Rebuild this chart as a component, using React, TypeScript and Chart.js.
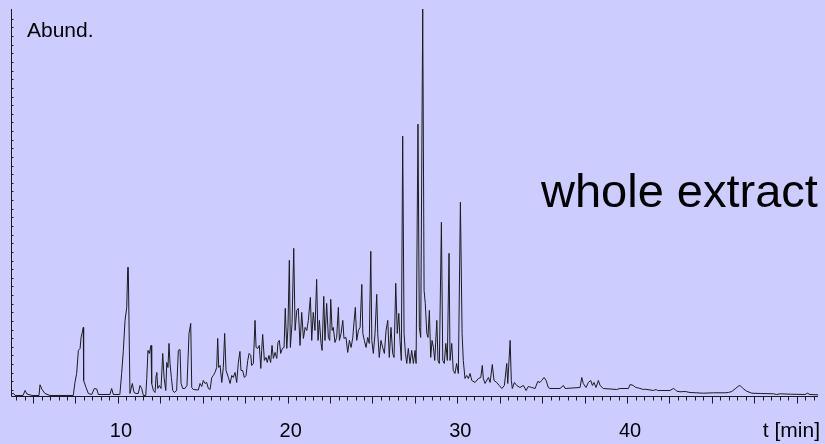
import React, { useEffect, useRef } from "react";
import { Chart, registerables } from "chart.js";

Chart.register(...registerables);

// Retention time (min)
const times: number[] = [
  3.74, 3.85, 3.94, 4.41, 4.53, 4.64, 4.94, 5.35, 5.41, 5.53,
  5.70, 6.00, 7.37, 7.47, 7.57, 7.67, 7.77, 7.83, 7.90, 7.96,
  7.98, 8.12, 8.26, 8.46, 8.61, 8.75, 8.85, 9.53, 9.63, 9.73,
  10.08, 10.12, 10.22, 10.32, 10.42, 10.52, 10.58, 10.61, 10.71, 10.85,
  10.95, 11.07, 11.20, 11.30, 11.40, 11.50, 11.64, 11.70, 11.77, 11.85,
  11.95, 11.99, 12.09, 12.19, 12.25, 12.29, 12.35, 12.44, 12.54, 12.64,
  12.72, 12.82, 12.88, 12.95, 13.01, 13.07, 13.15, 13.23, 13.32, 13.46,
  13.56, 13.66, 13.72, 13.82, 13.95, 14.07, 14.19, 14.29, 14.35, 14.44,
  14.74, 14.84, 14.94, 15.03, 15.13, 15.23, 15.33, 15.43, 15.53, 15.62,
  15.72, 15.82, 15.88, 15.94, 16.02, 16.12, 16.21, 16.29, 16.37, 16.51,
  16.61, 16.71, 16.80, 16.90, 17.00, 17.09, 17.19, 17.25, 17.35, 17.45,
  17.55, 17.65, 17.73, 17.83, 17.88, 17.98, 18.08, 18.14, 18.24, 18.33,
  18.42, 18.47, 18.53, 18.63, 18.73, 18.80, 18.90, 19.00, 19.08, 19.16,
  19.26, 19.36, 19.43, 19.51, 19.59, 19.69, 19.79, 19.86, 19.95, 20.02,
  20.10, 20.16, 20.26, 20.36, 20.44, 20.54, 20.63, 20.73, 20.83, 20.93,
  21.03, 21.13, 21.22, 21.34, 21.42, 21.51, 21.61, 21.71, 21.79, 21.87,
  21.97, 22.03, 22.13, 22.20, 22.30, 22.40, 22.48, 22.54, 22.62, 22.69,
  22.79, 22.89, 22.99, 23.05, 23.15, 23.25, 23.32, 23.44, 23.54, 23.64,
  23.74, 23.84, 23.91, 23.99, 24.07, 24.17, 24.27, 24.37, 24.43, 24.52,
  24.62, 24.72, 24.81, 24.90, 24.96, 25.05, 25.15, 25.25, 25.31, 25.40,
  25.50, 25.60, 25.70, 25.80, 25.90, 25.99, 26.09, 26.19, 26.27, 26.37,
  26.46, 26.55, 26.62, 26.70, 26.78, 26.86, 26.94, 27.02, 27.11, 27.21,
  27.31, 27.41, 27.51, 27.57, 27.68, 27.76, 27.84, 27.96, 28.04, 28.11,
  28.20, 28.27, 28.35, 28.43, 28.51, 28.59, 28.67, 28.79, 28.86, 28.94,
  29.06, 29.14, 29.23, 29.32, 29.41, 29.51, 29.57, 29.67, 29.76, 29.86,
  29.96, 30.06, 30.18, 30.28, 30.35, 30.45, 30.55, 30.65, 30.75, 30.85,
  31.04, 31.24, 31.38, 31.47, 31.53, 31.63, 31.83, 31.93, 32.06, 32.16,
  32.32, 32.47, 32.62, 32.77, 32.91, 32.97, 33.11, 33.18, 33.24, 33.36,
  33.50, 33.69, 33.89, 34.05, 34.18, 34.38, 34.58, 34.74, 34.87, 34.97,
  35.11, 35.23, 35.36, 35.46, 36.05, 36.25, 36.35, 37.23, 37.33, 37.42,
  37.58, 37.72, 37.86, 37.96, 38.05, 38.17, 38.31, 38.41, 38.60, 39.39,
  39.59, 40.08, 40.18, 40.37, 40.51, 40.67, 40.96, 41.06, 41.55, 41.71,
  41.79, 42.53, 42.73, 42.83, 42.93, 43.12, 43.42, 43.71, 44.50, 45.09,
  45.78, 45.97, 46.17, 46.37, 46.56, 46.66, 46.85, 47.05, 47.35, 47.84,
  48.62, 48.82, 49.02, 49.61, 50.49, 50.62, 50.78, 51.26,
];

// Abundance (arbitrary units)
const abundance: number[] = [
  2.7, 3, 1, 1, 6, 2.5, 1, 1, 11.7, 7,
  3, 1, 1, 14, 23, 46, 48, 59, 64, 69,
  16, 9, 3, 2, 8, 7.5, 2, 2, 8, 2,
  2, 3, 23, 46, 76, 89, 129, 129, 3, 13,
  4, 3, 3, 11, 8, 1, 1, 18, 46, 43,
  51, 13, 6, 4, 21, 24, 8, 11, 8, 43,
  19, 6, 34, 29, 53, 33, 19, 6, 4, 6,
  46, 47, 13, 8, 8, 11, 63, 73, 9, 7,
  6.5, 13, 10, 16, 13, 14, 8, 7, 19, 21,
  24, 29, 58, 29, 31, 14, 29, 63, 26, 19,
  13, 21, 19, 24, 14, 33, 45, 26, 26, 19,
  21, 36, 43, 41, 31, 33, 76, 49, 48, 51,
  28, 46, 62, 36, 39, 34, 41, 34, 51, 38,
  44, 38, 54, 56, 43, 48, 49, 88, 48, 69,
  136, 49, 73, 148, 66, 86, 88, 51, 84, 58,
  69, 66, 76, 99, 56, 84, 66, 117, 56, 76,
  53, 46, 100, 56, 93, 59, 56, 97, 66, 69,
  54, 59, 89, 56, 63, 76, 58, 59, 44, 56,
  49, 59, 74, 89, 56, 66, 69, 112, 63, 56,
  49, 59, 53, 145, 56, 43, 63, 102, 63, 39,
  56, 49, 43, 66, 76, 39, 69, 43, 39, 113,
  63, 83, 56, 36, 260, 63, 43, 33, 48, 33,
  46, 33, 46, 33, 272, 69, 59, 387, 106, 93,
  63, 59, 86, 39, 56, 49, 36, 76, 36, 33,
  174, 36, 33, 53, 36, 143, 36, 53, 26, 23,
  33, 23, 194, 63, 36, 18, 21, 18, 23, 16,
  14, 18, 19, 31, 18, 13, 19, 14, 32, 16,
  14, 11, 8, 11, 33, 13, 56, 16, 8, 14,
  11, 9, 11, 6, 10, 9, 8, 15, 14, 16,
  19, 16, 9, 8, 8, 11, 8, 9, 19, 13,
  9, 14, 16, 11, 14, 9, 16, 11, 8, 7,
  8, 8, 12, 11, 9, 8.5, 7, 7.3, 6, 7,
  6, 6, 8, 7, 5.3, 4.7, 5, 4, 3.3, 3.7,
  3.7, 4, 5, 7.7, 10.3, 11, 7.7, 5.3, 3.3, 3,
  2.7, 2, 2.7, 2.3, 2, 3.3, 2, 1.7,
];

// Axis labels
const xTickLabels: number[] = [10, 20, 30, 40];
const X_MIN = 3.73;
const X_MAX = 51.25;
const Y_MAX = 387;

const BG = "#ccccff";
const INK = "#1c1c1c";
const FONT = '"Liberation Sans", Arial, Helvetica, sans-serif';

const axesPlugin = {
  id: "chromAxes",
  beforeDraw(chart: any) {
    const { ctx, width, height } = chart;
    ctx.save();
    ctx.fillStyle = BG;
    ctx.fillRect(0, 0, width, height);
    ctx.restore();
  },
  afterDraw(chart: any) {
    const { ctx, chartArea } = chart;
    const xs = chart.scales.x;
    const ys = chart.scales.y;
    const left = chartArea.left;
    const bottom = chartArea.bottom;
    ctx.save();
    ctx.strokeStyle = INK;
    ctx.lineWidth = 1;
    // y axis line
    ctx.beginPath();
    ctx.moveTo(left, chartArea.top);
    ctx.lineTo(left, bottom);
    ctx.stroke();
    // y ticks (inward, small)
    for (let k = 0; k < 44; k++) {
      const v = 6.5 + k * 8.62;
      const py = Math.round(ys.getPixelForValue(v)) + 0.5;
      ctx.beginPath();
      ctx.moveTo(left, py);
      ctx.lineTo(left + 2, py);
      ctx.stroke();
    }
    // x axis line
    ctx.beginPath();
    ctx.moveTo(left, bottom);
    ctx.lineTo(chartArea.right, bottom);
    ctx.stroke();
    // x ticks: minor every 0.5 min, major every 2.5 min
    for (let i = 8; i <= 102; i++) {
      const t = i / 2;
      const px = Math.round(xs.getPixelForValue(t)) + 0.5;
      const major = i % 5 === 0;
      ctx.beginPath();
      ctx.moveTo(px, bottom);
      ctx.lineTo(px, bottom + (major ? 7 : 4));
      ctx.stroke();
    }
    // tick labels
    ctx.fillStyle = "#000";
    ctx.font = `20px ${FONT}`;
    ctx.textAlign = "center";
    ctx.textBaseline = "alphabetic";
    for (const t of xTickLabels) {
      ctx.fillText(String(t), xs.getPixelForValue(t) + 3, 437);
    }
    // axis titles
    ctx.font = `21px ${FONT}`;
    ctx.textAlign = "right";
    ctx.fillText("t [min]", 820, 437);
    ctx.textAlign = "left";
    ctx.fillText("Abund.", 27, 36.5);
    // annotation
    ctx.font = `47px ${FONT}`;
    ctx.fillText("whole extract", 541, 206.5);
    ctx.restore();
  },
};

export default function App() {
  const ref = useRef<HTMLCanvasElement | null>(null);

  useEffect(() => {
    document.body.style.margin = "0";
    if (!ref.current) return;
    const chart = new Chart(ref.current, {
      type: "line",
      data: {
        datasets: [
          {
            label: "whole extract",
            data: times.map((t, i) => ({ x: t, y: abundance[i] })),
            borderColor: INK,
            borderWidth: 1,
            pointRadius: 0,
            tension: 0,
            fill: false,
            clip: false as any,
          },
        ],
      },
      options: {
        animation: false,
        responsive: false,
        maintainAspectRatio: false,
        layout: { padding: { left: 11.5, top: 9, right: 7, bottom: 47.5 } },
        plugins: {
          legend: { display: false },
          tooltip: { enabled: false },
        },
        scales: {
          x: { type: "linear", min: X_MIN, max: X_MAX, display: false },
          y: { type: "linear", min: 0, max: Y_MAX, display: false },
        },
      },
      plugins: [axesPlugin],
    });
    return () => chart.destroy();
  }, []);

  return (
    <div style={{ position: "fixed", left: 0, top: 0, width: 825, height: 444, background: BG }}>
      <canvas ref={ref} width={825} height={444} style={{ width: 825, height: 444, display: "block" }} />
    </div>
  );
}
